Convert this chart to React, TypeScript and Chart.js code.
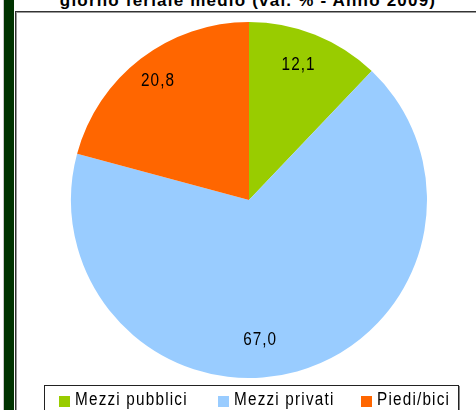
import React, { useEffect, useRef } from "react";
import { Chart, registerables } from "chart.js";

Chart.register(...registerables);

const categories = ["Mezzi pubblici", "Mezzi privati", "Piedi/bici"];
const values = [12.1, 67.0, 20.8];
const valueLabels = ["12,1", "67,0", "20,8"];
const colors = ["#99CC00", "#99CCFF", "#FF6600"];
const titleText = "giorno feriale medio (val. % - Anno 2009)";
const labelRadius = [0.81, 0.79, 0.84];
const labelAngleShift = [-1.7, 11.1, 0];
const legendLefts = [59, 218, 361];

const FONT = "'Liberation Sans', Arial, sans-serif";
const SQUEEZE = 0.85;

const labelPlugin = {
  id: "sliceLabels",
  afterDatasetsDraw(chart: any) {
    const ctx = chart.ctx;
    const meta = chart.getDatasetMeta(0);
    meta.data.forEach((arc: any, i: number) => {
      const p = arc.getProps(["x", "y", "startAngle", "endAngle", "outerRadius"], true);
      const mid = (p.startAngle + p.endAngle) / 2 + (labelAngleShift[i] * Math.PI) / 180;
      const r = p.outerRadius * labelRadius[i];
      ctx.save();
      ctx.translate(p.x + Math.cos(mid) * r, p.y + Math.sin(mid) * r);
      ctx.scale(SQUEEZE, 1);
      ctx.font = `18px ${FONT}`;
      (ctx as any).letterSpacing = "1.2px";
      ctx.fillStyle = "#000";
      ctx.textAlign = "center";
      ctx.textBaseline = "middle";
      ctx.fillText(valueLabels[i], 0, 0);
      ctx.restore();
    });
  },
};

export default function App() {
  const ref = useRef<HTMLCanvasElement | null>(null);
  useEffect(() => {
    if (!ref.current) return;
    const chart = new Chart(ref.current, {
      type: "pie",
      data: {
        labels: categories,
        datasets: [
          {
            data: values,
            backgroundColor: colors,
            borderWidth: 0,
          },
        ],
      },
      options: {
        responsive: false,
        animation: false,
        devicePixelRatio: 1,
        layout: { padding: { left: 71, right: 49, top: 22, bottom: 32 } },
        plugins: {
          legend: { display: false },
          title: { display: false },
          tooltip: { enabled: false },
        },
      },
      plugins: [labelPlugin],
    });
    return () => chart.destroy();
  }, []);

  return (
    <div
      style={{
        position: "fixed",
        left: 0,
        top: 0,
        width: 476,
        height: 410,
        overflow: "hidden",
        background: "#fff",
        fontFamily: FONT,
      }}
    >
      <div style={{ position: "absolute", left: 3, top: 0, width: 1, height: 410, background: "#c8c8c8" }} />
      <div style={{ position: "absolute", left: 4, top: 0, width: 10, height: 410, background: "#003300" }} />
      <div
        style={{
          position: "absolute",
          left: 15,
          top: 11,
          width: 480,
          height: 420,
          borderLeft: "1px solid #333",
          borderTop: "1px solid #333",
          boxShadow: "inset 1px 1px 0 #999",
        }}
      />
      <div
        style={{
          position: "absolute",
          left: 0,
          width: 496,
          top: -7,
          textAlign: "center",
          fontWeight: "bold",
          fontSize: 17,
          lineHeight: "16px",
          letterSpacing: "1.2px",
          color: "#000",
          whiteSpace: "nowrap",
        }}
      >
        {titleText}
      </div>
      <canvas ref={ref} width={476} height={410} style={{ position: "absolute", left: 0, top: 0 }} />
      <div
        style={{
          position: "absolute",
          left: 44,
          top: 385,
          width: 413,
          height: 40,
          border: "1px solid #222",
          boxShadow: "1px 1px 0 #888",
          background: "#fff",
        }}
      />
      {categories.map((c, i) => (
        <div
          key={c}
          style={{
            position: "absolute",
            left: legendLefts[i],
            top: 389,
            height: 20,
            display: "flex",
            alignItems: "center",
            whiteSpace: "nowrap",
          }}
        >
          <span style={{ display: "inline-block", width: 11, height: 11, background: colors[i], marginRight: 5, marginTop: 4 }} />
          <span
            style={{
              display: "inline-block",
              fontSize: 18,
              letterSpacing: "1.4px",
              color: "#000",
              lineHeight: "20px",
              transform: `scaleX(${SQUEEZE})`,
              transformOrigin: "left center",
            }}
          >
            {c}
          </span>
        </div>
      ))}
    </div>
  );
}
